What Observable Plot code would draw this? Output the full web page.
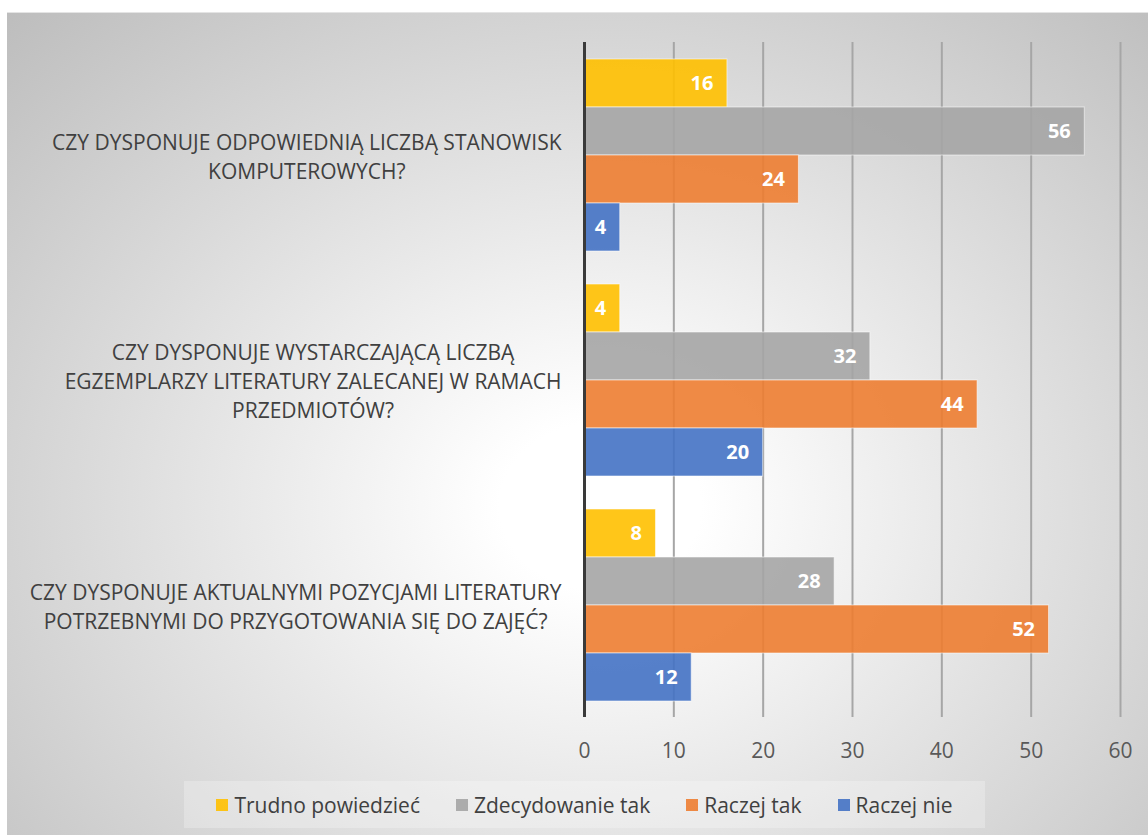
<!DOCTYPE html>
<html>
<head>
<meta charset="utf-8">
<script src="https://cdn.jsdelivr.net/npm/d3@7"></script>
<script src="https://cdn.jsdelivr.net/npm/@observablehq/plot@0.6"></script>
<style>
  html, body { margin: 0; padding: 0; background: #ffffff; }
  body { width: 1148px; height: 835px; position: relative; overflow: hidden; font-family: "Open Sans", sans-serif; }
  #panel { position: absolute; left: 7px; top: 12px; width: 1141px; height: 823px;
    border-top: 1px solid #e4e4e4; box-sizing: border-box;
    background: radial-gradient(ellipse farthest-corner at 52% 60%, #ffffff 0%, #ffffff 12%, #bdbdbd 100%); }
  #chart { position: absolute; left: 0; top: 0; }
  #legend { position: absolute; left: 184px; top: 781px; width: 801px; height: 47px;
    background: rgba(255,255,255,0.25); display: flex; align-items: center; justify-content: center;
    gap: 36px; font-size: 21px; color: #404040; }
  #legend .item { display: flex; align-items: center; gap: 6px; white-space: nowrap; }
  #legend .sw { width: 12px; height: 12px; display: inline-block; }
</style>
</head>
<body>
<div id="panel"></div>
<div id="chart"></div>
<div id="legend"></div>
<script>
const questions = [
  "CZY DYSPONUJE ODPOWIEDNIĄ LICZBĄ STANOWISK KOMPUTEROWYCH?",
  "CZY DYSPONUJE WYSTARCZAJĄCĄ LICZBĄ EGZEMPLARZY LITERATURY ZALECANEJ W RAMACH PRZEDMIOTÓW?",
  "CZY DYSPONUJE AKTUALNYMI POZYCJAMI LITERATURY POTRZEBNYMI DO PRZYGOTOWANIA SIĘ DO ZAJĘĆ?"
];
const questionLines = [
  ["CZY DYSPONUJE ODPOWIEDNIĄ LICZBĄ STANOWISK", "KOMPUTEROWYCH?"],
  ["CZY DYSPONUJE WYSTARCZAJĄCĄ LICZBĄ", "EGZEMPLARZY LITERATURY ZALECANEJ W RAMACH", "PRZEDMIOTÓW?"],
  ["CZY DYSPONUJE AKTUALNYMI POZYCJAMI LITERATURY", "POTRZEBNYMI DO PRZYGOTOWANIA SIĘ DO ZAJĘĆ?"]
];
const series = ["Trudno powiedzieć", "Zdecydowanie tak", "Raczej tak", "Raczej nie"];
const colors = ["#FFC000", "#A5A5A5", "#ED7D31", "#4472C4"];
const trudnoPowiedziec = [16, 4, 8];
const zdecydowanieTak = [56, 32, 28];
const raczejTak = [24, 44, 52];
const raczejNie = [4, 20, 12];
const xTicks = [0, 10, 20, 30, 40, 50, 60];

const seriesValues = [trudnoPowiedziec, zdecydowanieTak, raczejTak, raczejNie];
const data = [];
questions.forEach((q, qi) => {
  series.forEach((s, si) => data.push({question: q, series: s, value: seriesValues[si][qi]}));
});

const FONT = "'Open Sans', sans-serif";
const labelSize = 21;
const canvas = document.createElement("canvas");
const ctx = canvas.getContext("2d");
ctx.font = `${labelSize}px ${FONT}`;

const labelMarks = questions.map((q, qi) => {
  const lines = questionLines[qi];
  const w = Math.max(...lines.map(l => ctx.measureText(l).width));
  return Plot.text([q], {
    fy: d => d,
    text: () => lines.join("\n"),
    frameAnchor: "left",
    textAnchor: "middle",
    dx: -23 - w / 2,
    lineHeight: 29 / labelSize,
    fontSize: labelSize,
    fill: "#404040"
  });
});

const chart = Plot.plot({
  width: 1148,
  height: 775,
  marginLeft: 584,
  marginRight: 28,
  marginTop: 42,
  marginBottom: 58,
  style: {background: "transparent", fontFamily: FONT, fontSize: "21px", color: "#595959"},
  x: {domain: [0, 60], ticks: xTicks, tickSize: 0, tickPadding: 41, label: null},
  y: {domain: series, padding: 0, axis: null},
  fy: {domain: questions, paddingInner: 30 / 225, paddingOuter: 15 / 225, axis: null},
  color: {domain: series, range: colors},
  marks: [
    Plot.ruleX(xTicks.slice(1), {x: d => d, stroke: "#a6a6a6", strokeWidth: 2, insetTop: -15, insetBottom: -15}),
    Plot.barX(data, {x: "value", y: "series", fy: "question", fill: "series", fillOpacity: 0.9,
      stroke: "#ffffff", strokeOpacity: 0.55, strokeWidth: 1}),
    Plot.text(data, {x: "value", y: "series", fy: "question", text: d => String(d.value),
      textAnchor: "end", dx: -14, fill: "white", fontWeight: "bold", fontSize: 20}),
    Plot.ruleX([0], {x: d => d, stroke: "#3a3a3a", strokeWidth: 3, insetTop: -15, insetBottom: -15}),
    ...labelMarks
  ]
});
document.getElementById("chart").appendChild(chart);

const legend = document.getElementById("legend");
series.forEach((s, i) => {
  const item = document.createElement("div");
  item.className = "item";
  const sw = document.createElement("span");
  sw.className = "sw";
  sw.style.background = colors[i];
  sw.style.opacity = 0.9;
  const t = document.createElement("span");
  t.textContent = s;
  item.appendChild(sw);
  item.appendChild(t);
  legend.appendChild(item);
});
</script>
</body>
</html>
